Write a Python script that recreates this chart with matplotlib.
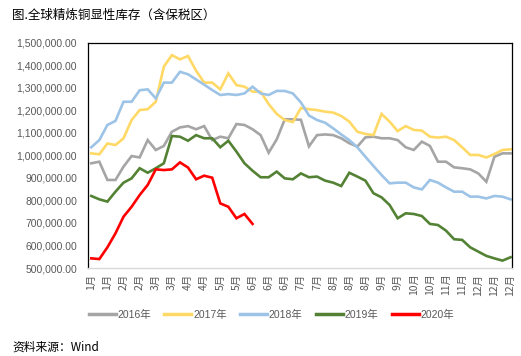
import matplotlib.pyplot as plt
import matplotlib.ticker as mticker
import numpy as np

plt.rcParams['font.family'] = ['Liberation Sans', 'Noto Sans CJK SC', 'DejaVu Sans']

# weekly tick labels (every second week)
TICK_LABELS = ["1月", "1月", "2月", "2月", "3月", "3月", "4月", "4月", "5月", "5月",
               "6月", "6月", "6月", "7月", "7月", "8月", "8月", "8月", "9月", "9月",
               "10月", "10月", "11月", "11月", "12月", "12月", "12月"]

# inventory, thousand tonnes -> converted to tonnes below
Y2016 = [965, 972, 891, 891, 950, 997, 991, 1068, 1024, 1042,
         1105, 1124, 1130, 1116, 1130, 1068, 1083, 1076, 1139, 1135,
         1116, 1090, 1012, 1071, 1160, 1160, 1158, 1040, 1090, 1093,
         1090, 1076, 1054, 1039, 1080, 1083, 1076, 1076, 1068, 1036,
         1024, 1061, 1042, 972, 972, 947, 943, 938, 920, 883,
         994, 1009, 1009]
Y2017 = [1009, 1005, 1053, 1046, 1076, 1157, 1201, 1205, 1238, 1394,
         1445, 1426, 1441, 1376, 1323, 1323, 1293, 1364, 1312, 1305,
         1283, 1283, 1228, 1184, 1157, 1148, 1210, 1205, 1201, 1194,
         1190, 1175, 1150, 1105, 1095, 1090, 1184, 1150, 1108, 1130,
         1113, 1110, 1083, 1079, 1083, 1068, 1036, 1002, 1002, 991,
         1006, 1024, 1027]
Y2018 = [1036, 1068, 1135, 1153, 1238, 1238, 1289, 1293, 1253, 1323,
         1323, 1371, 1360, 1337, 1314, 1290, 1268, 1272, 1268, 1275,
         1305, 1275, 1268, 1286, 1286, 1275, 1235, 1177, 1157, 1145,
         1120, 1093, 1068, 1036, 994, 953, 913, 876, 879, 879,
         858, 849, 891, 879, 858, 839, 839, 817, 817, 809,
         820, 817, 805]
Y2019 = [820, 805, 795, 839, 879, 898, 943, 923, 943, 965,
         1086, 1083, 1065, 1090, 1076, 1076, 1036, 1065, 1017, 965,
         932, 903, 903, 928, 898, 894, 920, 903, 906, 888,
         879, 864, 923, 906, 888, 832, 814, 780, 721, 743,
         740, 731, 696, 691, 666, 628, 625, 592, 573, 554,
         543, 533, 548]
Y2020 = [543, 540, 592, 654, 728, 772, 824, 869, 938, 935,
         938, 969, 946, 894, 910, 901, 787, 772, 721, 740,
         696]

SERIES = [
    ("2016年", Y2016, "#A5A5A5"),
    ("2017年", Y2017, "#FFD966"),
    ("2018年", Y2018, "#9DC3E6"),
    ("2019年", Y2019, "#548235"),
    ("2020年", Y2020, "#FF0000"),
]

TEXT_COLOR = "#595959"


def main():
    fig = plt.figure(figsize=(5.21, 3.56), dpi=100)
    ax = fig.add_axes([0.169, 0.247, 0.814, 0.633])

    for label, vals, color in SERIES:
        y = np.array(vals, dtype=float) * 1000.0
        ax.plot(np.arange(len(y)), y, color=color, linewidth=1.9,
                label=label, solid_joinstyle="miter")

    ax.set_xlim(-0.4, 52.2)
    ax.set_ylim(500000, 1500000)
    ax.set_yticks(np.arange(500000, 1500001, 100000))
    ax.yaxis.set_major_formatter(mticker.FuncFormatter(lambda v, p: f"{v:,.2f}"))
    ax.set_xticks(np.arange(0, 53, 2))
    ax.set_xticklabels(TICK_LABELS, rotation=90,
                       family=["Noto Sans CJK SC", "DejaVu Sans"])
    ax.tick_params(axis="both", length=0, labelsize=7.5, colors=TEXT_COLOR)
    ax.tick_params(axis="y", pad=8)
    ax.tick_params(axis="x", pad=4)

    for side in ("left", "top", "right"):
        ax.spines[side].set_color("#000000")
        ax.spines[side].set_linewidth(0.9)
    ax.spines["bottom"].set_color("#D9D9D9")
    ax.spines["bottom"].set_linewidth(1.0)

    fig.text(0.023, 0.957, "图.全球精炼铜显性库存（含保税区）", fontsize=9,
             family=["Noto Sans CJK SC", "DejaVu Sans"], va="center", ha="left")
    fig.text(0.023, 0.025, "资料来源：Wind", fontsize=8.5,
             family=["Noto Sans CJK SC", "DejaVu Sans"], va="center", ha="left")

    handles, labels = ax.get_legend_handles_labels()
    leg = fig.legend(handles, labels, loc="center", ncol=5,
                     bbox_to_anchor=(0.521, 0.115), frameon=False,
                     fontsize=7.5, handlelength=2.6, handletextpad=0.15,
                     columnspacing=1.3, prop={"family": ["Liberation Sans", "Noto Sans CJK SC"], "size": 7.5})
    for t in leg.get_texts():
        t.set_color(TEXT_COLOR)
    for h in leg.get_lines():
        h.set_linewidth(2.5)

    fig.savefig("out.png", dpi=100)


if __name__ == "__main__":
    main()
